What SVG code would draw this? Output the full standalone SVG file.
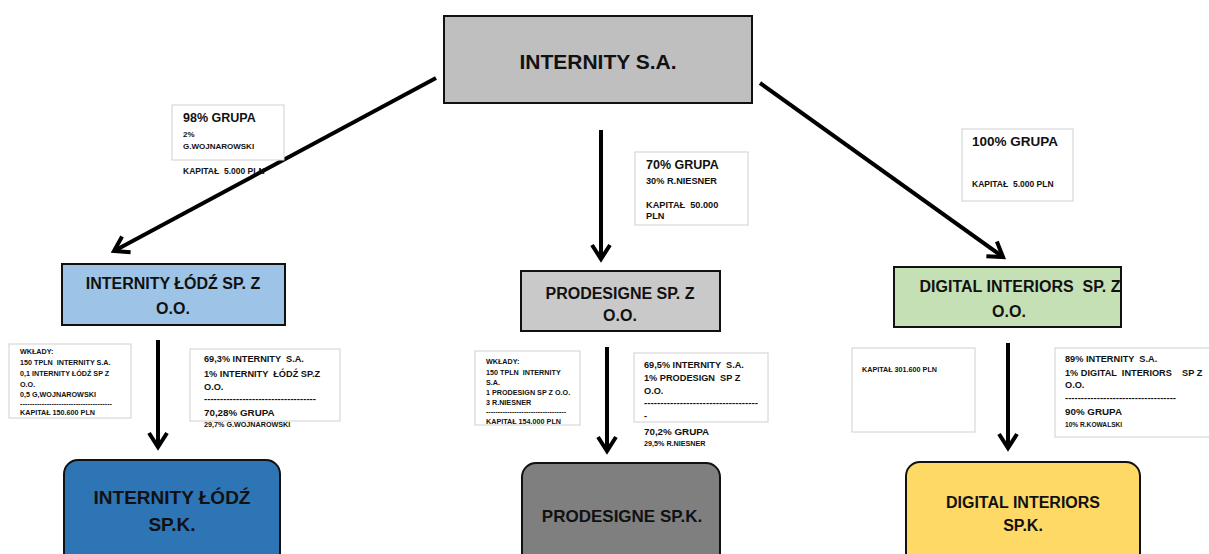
<svg xmlns="http://www.w3.org/2000/svg" width="1209" height="554" viewBox="0 0 1209 554">
<defs>
<style>
text{font-family:"Liberation Sans",Arial,sans-serif;font-weight:bold;fill:#111}
.node{stroke:#111;stroke-width:2}
.lbl{fill:#fff;stroke:#d0d0d0;stroke-width:1}
.big{font-size:16px;text-anchor:middle}
.s12{font-size:12.5px}
.s10{font-size:9.8px}
.s9{font-size:9.2px}
.s8{font-size:8px}
.s85{font-size:8.5px}
.s7{font-size:7.2px}
.conn{stroke:#000;stroke-width:4;fill:none;marker-end:url(#ah)}
</style>
<marker id="ah" markerUnits="userSpaceOnUse" markerWidth="24" markerHeight="24" viewBox="0 0 24 24" refX="19" refY="12" orient="auto">
<path d="M5,3 L19,12 L5,21" fill="none" stroke="#000" stroke-width="4" stroke-linejoin="miter"/>
</marker>
</defs>
<rect width="1209" height="554" fill="#fff"/>

<g id="connectors">
<line class="conn" x1="436" y1="78" x2="114" y2="251"/>
<line class="conn" x1="601" y1="130" x2="601" y2="259"/>
<line class="conn" x1="760" y1="83" x2="1003" y2="257"/>
<line class="conn" x1="158" y1="340" x2="158" y2="447"/>
<line class="conn" x1="607" y1="347" x2="607" y2="451"/>
<line class="conn" x1="1008" y1="343" x2="1008" y2="448"/>
</g>

<g id="internity-sa">
<rect class="node" x="444" y="16" width="308" height="87" fill="#bfbfbf"/>
<text x="598" y="69" font-size="21" text-anchor="middle">INTERNITY S.A.</text>
</g>

<g id="internity-lodz-spzoo">
<rect class="node" x="62" y="264" width="223" height="61" fill="#9dc3e6" stroke-width="1.5"/>
<text class="big" x="173" y="289">INTERNITY ŁÓDŹ SP. Z</text>
<text class="big" x="173" y="314">O.O.</text>
</g>

<g id="prodesigne-spzoo">
<rect class="node" x="521" y="271" width="199" height="60" fill="#c9c9c9" stroke-width="1.5"/>
<text class="big" x="620" y="299">PRODESIGNE SP. Z</text>
<text class="big" x="620" y="321">O.O.</text>
</g>

<g id="digital-interiors-spzoo">
<rect class="node" x="894" y="267" width="227" height="60" fill="#c5e0b4" stroke-width="1.5"/>
<text class="big" x="1020" y="292" xml:space="preserve">DIGITAL INTERIORS  SP. Z</text>
<text class="big" x="1009" y="317">O.O.</text>
</g>

<g id="internity-lodz-spk">
<rect class="node" x="64" y="460" width="216" height="110" rx="14" fill="#2e75b6"/>
<text class="big" x="172" y="504" style="font-size:19px">INTERNITY ŁÓDŹ</text>
<text class="big" x="172" y="531" style="font-size:19px">SP.K.</text>
</g>

<g id="prodesigne-spk">
<rect class="node" x="522" y="463" width="198" height="110" rx="14" fill="#7f7f7f"/>
<text class="big" x="622" y="522" style="font-size:17px">PRODESIGNE SP.K.</text>
</g>

<g id="digital-interiors-spk">
<rect class="node" x="906" y="462" width="234" height="110" rx="14" fill="#ffd966"/>
<text class="big" x="1023" y="508">DIGITAL INTERIORS</text>
<text class="big" x="1023" y="531">SP.K.</text>
</g>

<g id="label-lodz-top">
<rect class="lbl" x="172" y="105" width="112" height="55"/>
<text class="s12" x="183" y="122">98% GRUPA</text>
<text class="s8" x="183" y="137">2%</text>
<text class="s8" x="183" y="149">G.WOJNAROWSKI</text>
<text class="s85" x="183" y="174" xml:space="preserve">KAPITAŁ  5.000 PLN</text>
</g>

<g id="label-prodesigne-top">
<rect class="lbl" x="635" y="152" width="113" height="73"/>
<text class="s12" x="646" y="169">70% GRUPA</text>
<text class="s9" x="646" y="184">30% R.NIESNER</text>
<text class="s9" x="646" y="208" xml:space="preserve">KAPITAŁ  50.000</text>
<text class="s9" x="646" y="219">PLN</text>
</g>

<g id="label-digital-top">
<rect class="lbl" x="962" y="129" width="111" height="72"/>
<text x="972" y="146" font-size="13.5">100% GRUPA</text>
<text class="s85" x="972" y="187" xml:space="preserve">KAPITAŁ  5.000 PLN</text>
</g>

<g id="label-lodz-wklady">
<rect class="lbl" x="9" y="344" width="122" height="74"/>
<text class="s7" x="20" y="354">WKŁADY:</text>
<text class="s7" x="20" y="365" xml:space="preserve">150 TPLN  INTERNITY S.A.</text>
<text class="s7" x="20" y="376">0,1 INTERNITY ŁÓDŹ SP Z</text>
<text class="s7" x="20" y="387">O.O.</text>
<text class="s7" x="20" y="397">0,5 G,WOJNAROWSKI</text>
<text class="s7" x="20" y="406" textLength="92" lengthAdjust="spacingAndGlyphs">--------------------------------------</text>
<text class="s7" x="20" y="415">KAPITAŁ 150.600 PLN</text>
</g>

<g id="label-lodz-shares">
<rect class="lbl" x="190" y="349" width="150" height="72"/>
<text class="s9" x="204" y="362" xml:space="preserve">69,3% INTERNITY  S.A.</text>
<text class="s9" x="204" y="377" xml:space="preserve">1% INTERNITY  ŁÓDŹ SP.Z</text>
<text class="s9" x="204" y="390">O.O.</text>
<text class="s9" x="204" y="402" textLength="112" lengthAdjust="spacingAndGlyphs">-----------------------------------</text>
<text class="s10" x="204" y="416">70,28% GRUPA</text>
<text class="s7" x="204" y="427">29,7% G.WOJNAROWSKI</text>
</g>

<g id="label-prodesigne-wklady">
<rect class="lbl" x="475" y="351" width="105" height="74"/>
<text class="s7" x="486" y="364">WKŁADY:</text>
<text class="s7" x="486" y="375" xml:space="preserve">150 TPLN  INTERNITY</text>
<text class="s7" x="486" y="385">S.A.</text>
<text class="s7" x="486" y="395">1 PRODESIGN SP Z O.O.</text>
<text class="s7" x="486" y="405">3 R.NIESNER</text>
<text class="s7" x="486" y="414" textLength="80" lengthAdjust="spacingAndGlyphs">----------------------------------</text>
<text class="s7" x="486" y="424">KAPITAŁ 154.000 PLN</text>
</g>

<g id="label-prodesigne-shares">
<rect class="lbl" x="634" y="353" width="134" height="69"/>
<text class="s9" x="644" y="368" xml:space="preserve">69,5% INTERNITY  S.A.</text>
<text class="s9" x="644" y="381" xml:space="preserve">1% PRODESIGN  SP Z</text>
<text class="s9" x="644" y="394">O.O.</text>
<text class="s9" x="644" y="406" textLength="114" lengthAdjust="spacingAndGlyphs">-----------------------------------</text>
<text class="s9" x="644" y="419">-</text>
<text class="s10" x="644" y="435">70,2% GRUPA</text>
<text class="s7" x="644" y="446">29,5% R.NIESNER</text>
</g>

<g id="label-digital-kapital">
<rect class="lbl" x="852" y="348" width="123" height="84"/>
<text class="s7" x="862" y="372">KAPITAŁ 301.600 PLN</text>
</g>

<g id="label-digital-shares">
<rect class="lbl" x="1055" y="348" width="160" height="89"/>
<text class="s9" x="1065" y="362" xml:space="preserve">89% INTERNITY  S.A.</text>
<text class="s9" x="1065" y="376" xml:space="preserve">1% DIGITAL  INTERIORS    SP Z</text>
<text class="s9" x="1065" y="388">O.O.</text>
<text class="s9" x="1065" y="401" textLength="111" lengthAdjust="spacingAndGlyphs">-----------------------------------</text>
<text class="s10" x="1065" y="415">90% GRUPA</text>
<text x="1065" y="427" font-size="6.6">10% R.KOWALSKI</text>
</g>
</svg>
